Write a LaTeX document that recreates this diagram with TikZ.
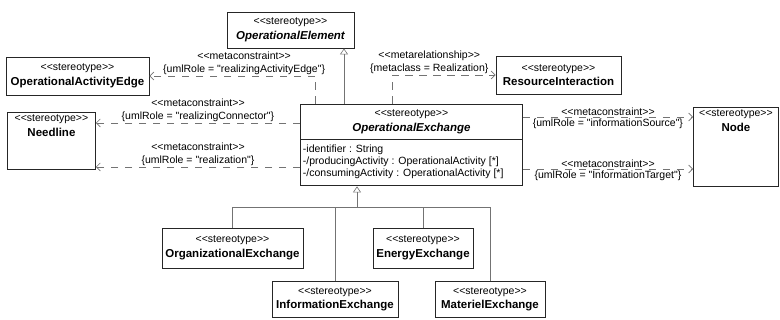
\documentclass[tikz,border=0pt]{standalone}
\usepackage{fontspec}
\newfontfamily\umlfont{Liberation Sans}
\usetikzlibrary{arrows.meta, shapes.multipart}
\newcommand\sttype{<<stereotype>>}
\newcommand\cname[1]{{\fontsize{11.5}{14}\selectfont\bfseries #1}}
\newcommand\aname[1]{{\fontsize{11.5}{14}\selectfont\bfseries\itshape #1}}
\tikzset{
  umlbox/.style={rectangle, draw=black!85, line width=0.9pt, fill=white,
                 align=center, inner sep=2.5pt,
                 font=\umlfont\fontsize{10.5}{14.5}\selectfont},
  link/.style={draw=black!55, line width=0.6pt},
  inherit/.style={link, -{Triangle[open, length=6pt, width=8pt]}},
  dep/.style={link, dash pattern=on 7.5pt off 6.5pt,
              -{Straight Barb[length=4pt, width=8pt]}},
  tag/.style={font=\umlfont\fontsize{10.5}{13}\selectfont,
              inner sep=1.5pt, align=center},
}

\begin{document}
\begin{tikzpicture}[x=1pt, y=-1pt]

  \path[fill=white, use as bounding box] (0,0) rectangle (780,320);

  % classes
  \node[umlbox, minimum width=127pt, minimum height=36pt] (opelem) at (290.5,30)
    {\sttype\\\aname{OperationalElement}};
  \node[umlbox, minimum width=143pt, minimum height=38pt] (actedge) at (77.5,76)
    {\sttype\\\cname{OperationalActivityEdge}};
  \node[umlbox, minimum width=125pt, minimum height=38pt] (resint) at (558.5,75)
    {\sttype\\\cname{ResourceInteraction}};
  \node[umlbox, anchor=north west, minimum width=88pt, text depth=31pt] (needline) at (7,112)
    {\sttype\\\cname{Needline}};
  \node[umlbox, anchor=north west, minimum width=85pt, text depth=53pt] (nodeblk) at (693,107)
    {\sttype\\\cname{Node}};

  \node[umlbox, rectangle split, rectangle split parts=2,
        rectangle split part align={center,left},
        anchor=north west, minimum width=222pt, inner ysep=5pt, inner xsep=2.5pt] (opexch) at (300,104)
    {\sttype\\\aname{OperationalExchange}
     \nodepart{two}{\fontsize{10.5}{12}\selectfont
       \begin{tabular}{@{}l@{}}
         -identifier : String\\
         -/producingActivity : OperationalActivity [*]\\
         -/consumingActivity : OperationalActivity [*]
       \end{tabular}}};

  \node[umlbox, minimum width=141pt, minimum height=40pt] (orgexch) at (232.5,248)
    {\sttype\\\cname{OrganizationalExchange}};
  \node[umlbox, minimum width=100pt, minimum height=40pt] (energyexch) at (423,248)
    {\sttype\\\cname{EnergyExchange}};
  \node[umlbox, minimum width=126pt, minimum height=36pt] (infoexch) at (335,299.5)
    {\sttype\\\cname{InformationExchange}};
  \node[umlbox, minimum width=110pt, minimum height=36pt] (matexch) at (490,299.5)
    {\sttype\\\cname{MaterielExchange}};

  % generalisations
  \coordinate (elemfoot) at (344,0);
  \coordinate (bus) at (357,207);
  \draw[inherit] (opexch.north -| elemfoot) -- (opelem.south -| elemfoot);
  \draw[inherit] (bus) -- (opexch.south -| bus);
  \draw[link] (orgexch.north) |- (bus);
  \draw[link] (infoexch.north) |- (bus);
  \draw[link] (energyexch.north) |- (bus);
  \draw[link] (matexch.north) |- (bus);

  % dependencies
  \draw[dep] ([xshift=15pt]opexch.north west) |- (actedge.east)
    node[tag, above, pos=0.714] {<<metaconstraint>>\\\{umlRole = "realizingActivityEdge"\}};
  \draw[dep] ([xshift=92pt]opexch.north west) |- (resint.west)
    node[tag, above, pos=0.68] {<<metarelationship>>\\\{metaclass = Realization\}};

  \coordinate (needA) at ([yshift=-19pt]opexch.north west);
  \coordinate (needB) at ([yshift=-63pt]opexch.north west);
  \draw[dep] (needA) -- (needA -| needline.east)
    node[tag, midway, above] {<<metaconstraint>>\\\{umlRole = "realizingConnector"\}};
  \draw[dep] (needB) -- (needB -| needline.east)
    node[tag, midway, above] {<<metaconstraint>>\\\{umlRole = "realization"\}};

  \coordinate (nodeA) at ([yshift=-13pt]opexch.north east);
  \coordinate (nodeB) at ([yshift=-65pt]opexch.north east);
  \draw[dep] (nodeA) -- (nodeA -| nodeblk.west)
    node[tag, midway, above] {<<metaconstraint>>}
    node[tag, midway, below] {\{umlRole = "informationSource"\}};
  \draw[dep] (nodeB) -- (nodeB -| nodeblk.west)
    node[tag, midway, above] {<<metaconstraint>>}
    node[tag, midway, below] {\{umlRole = "InformationTarget"\}};

\end{tikzpicture}
\end{document}
